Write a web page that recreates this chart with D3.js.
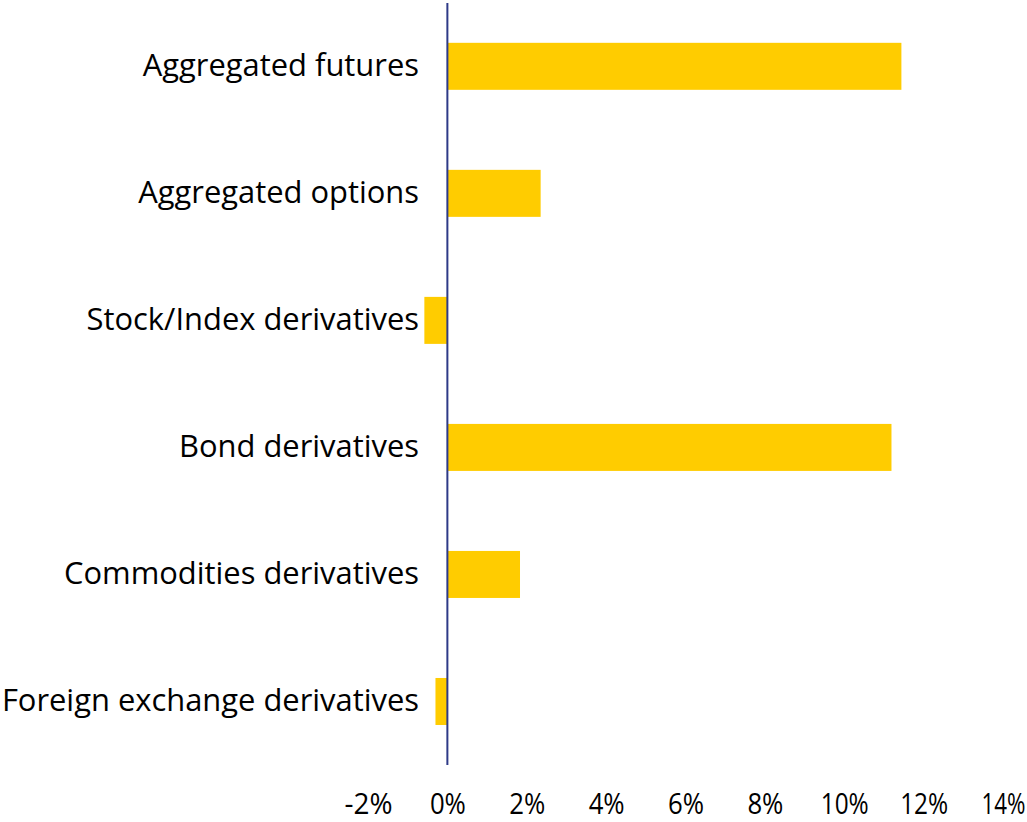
<!DOCTYPE html>
<html>
<head>
<meta charset="utf-8">
<script src="https://cdn.jsdelivr.net/npm/d3@7"></script>
<style>
  html, body { margin: 0; padding: 0; background: #fff; }
  svg { display: block; }
</style>
</head>
<body>
<svg id="chart" width="1027" height="822"></svg>
<script>
const categories = [
  "Aggregated futures",
  "Aggregated options",
  "Stock/Index derivatives",
  "Bond derivatives",
  "Commodities derivatives",
  "Foreign exchange derivatives"
];
const values = [11.44, 2.35, -0.58, 11.19, 1.83, -0.30];
const tickValues = [-2, 0, 2, 4, 6, 8, 10, 12, 14];
const tickLabels = ["-2%", "0%", "2%", "4%", "6%", "8%", "10%", "12%", "14%"];

const svg = d3.select("#chart");
const fontFamily = "'Open Sans', 'Noto Sans', sans-serif";

const x = d3.scaleLinear().domain([-2, 14]).range([368, 1003]);
const y = d3.scaleBand().domain(categories).range([2.8, 765]).paddingInner(0.63).paddingOuter(0.315);

// bars
svg.append("g").selectAll("rect")
  .data(categories.map((c, i) => ({c, v: values[i]})))
  .join("rect")
  .attr("x", d => x(Math.min(0, d.v)))
  .attr("width", d => Math.abs(x(d.v) - x(0)))
  .attr("y", d => y(d.c))
  .attr("height", y.bandwidth())
  .attr("fill", "#FFCC00");

// category labels
svg.append("g").selectAll("text")
  .data(categories)
  .join("text")
  .attr("x", 419)
  .attr("y", d => y(d) + y.bandwidth() / 2)
  .attr("dy", "0.3em")
  .attr("text-anchor", "end")
  .attr("font-family", fontFamily)
  .attr("font-size", 30.9)
  .attr("fill", "#000")
  .text(d => d);

// zero axis line
svg.append("line")
  .attr("x1", x(0)).attr("x2", x(0))
  .attr("y1", 3).attr("y2", 765)
  .attr("stroke", "#2E3A87")
  .attr("stroke-width", 2);

// bottom tick labels via axis
const xAxis = d3.axisBottom(x)
  .tickValues(tickValues)
  .tickFormat((d, i) => tickLabels[i])
  .tickSize(0)
  .tickPadding(0);
const gx = svg.append("g").attr("transform", "translate(0,786)").call(xAxis);
gx.select(".domain").remove();
gx.selectAll("text")
  .attr("font-family", fontFamily)
  .attr("font-size", 30)
  .attr("lengthAdjust", "spacingAndGlyphs")
  .attr("fill", "#000")
  .attr("dy", "0.92em")
  .attr("textLength", (d, i) => tickLabels[i].length === 2 ? 36 : (i === tickLabels.length - 1 ? 44 : 48));
</script>
</body>
</html>
